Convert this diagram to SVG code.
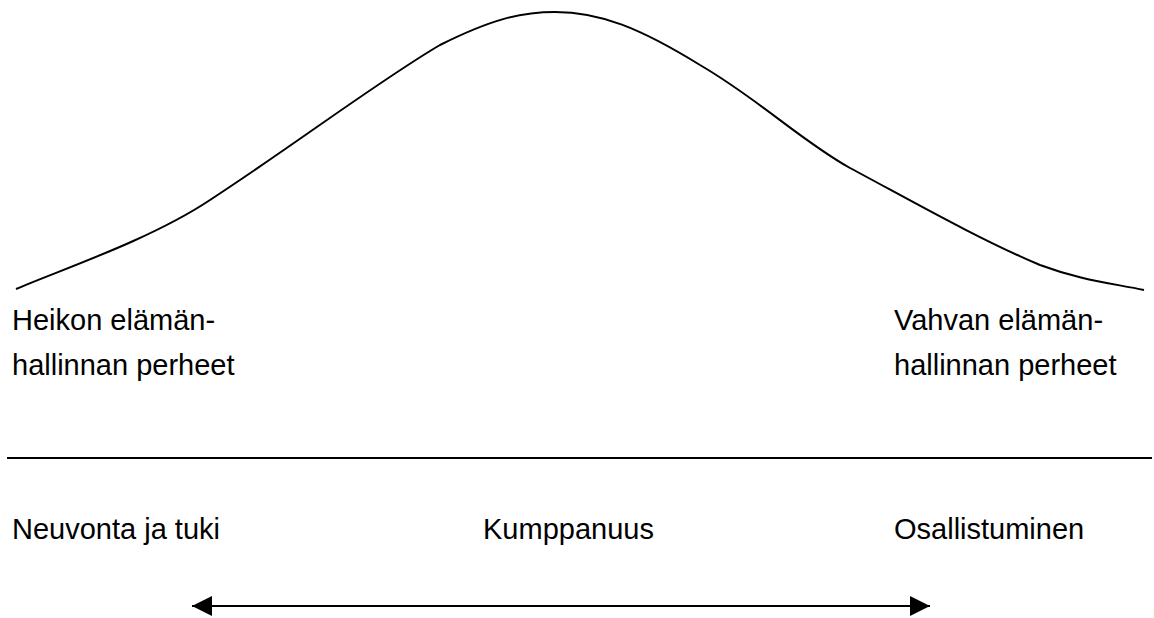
<svg xmlns="http://www.w3.org/2000/svg" width="1154" height="618" viewBox="0 0 1154 618">
<style>
.t{font-family:"Liberation Sans",Arial,sans-serif;font-size:29px;fill:#000}
.ln{stroke:#000;stroke-width:2;fill:none}
</style>
<defs>
<marker id="ah" viewBox="0 0 10 10" refX="10" refY="5" markerWidth="22" markerHeight="20" markerUnits="userSpaceOnUse" orient="auto-start-reverse">
<path d="M0,0 L10,5 L0,10 z" fill="#000"/>
</marker>
</defs>
<rect width="1154" height="618" fill="#fff"/>
<g id="curve">
<path class="ln" d="M16,289 C60,270 150,240 210,200 C290,148 380,80 440,45 C490,20 520,12 555,12 C600,12 640,28 700,65 C760,100 800,140 850,168 C910,200 980,240 1040,265 C1080,280 1110,283 1144,290"/>
</g>
<g id="label-left">
<text class="t" x="12" y="330">Heikon elämän-</text>
<text class="t" x="12" y="375">hallinnan perheet</text>
</g>
<g id="label-right">
<text class="t" x="894" y="330">Vahvan elämän-</text>
<text class="t" x="894" y="375">hallinnan perheet</text>
</g>
<g id="divider">
<line class="ln" x1="7" y1="458" x2="1152" y2="458"/>
</g>
<g id="label-neuvonta"><text class="t" x="12" y="539">Neuvonta ja tuki</text></g>
<g id="label-kumppanuus"><text class="t" x="483" y="539">Kumppanuus</text></g>
<g id="label-osallistuminen"><text class="t" x="894" y="539">Osallistuminen</text></g>
<g id="connectors">
<line class="ln" x1="192" y1="606" x2="930" y2="606" marker-start="url(#ah)" marker-end="url(#ah)"/>
</g>
</svg>
